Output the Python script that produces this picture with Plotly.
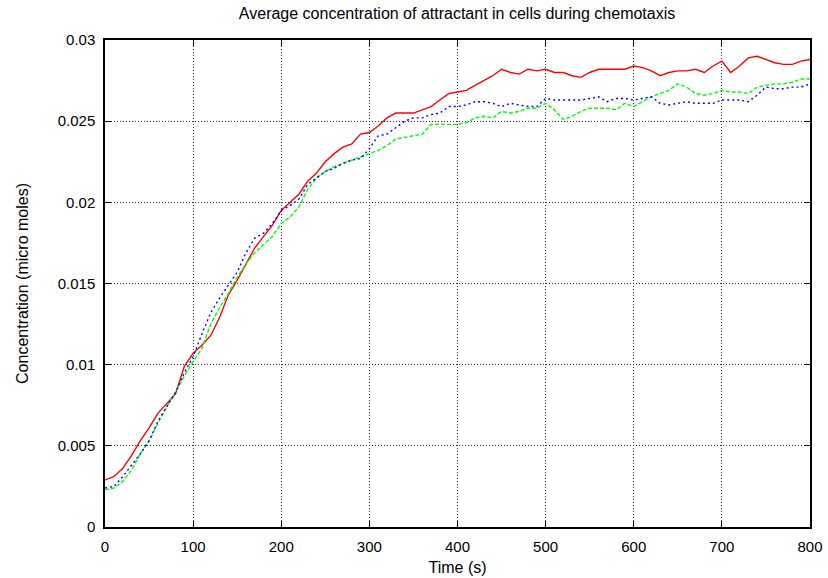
import plotly.graph_objects as go

time_s = list(range(0, 801, 10))

red_series = [
    0.0029, 0.0031, 0.0036, 0.0044, 0.0053, 0.0061, 0.0070, 0.0076, 0.0082, 0.0099,
    0.0107, 0.0112, 0.0118, 0.0129, 0.0143, 0.0152, 0.0162, 0.0172, 0.0179, 0.0186,
    0.0195, 0.0200, 0.0205, 0.0213, 0.0218, 0.0225, 0.0230, 0.0234, 0.0236, 0.0242,
    0.0243, 0.0247, 0.0252, 0.0255, 0.0255, 0.0255, 0.0257, 0.0259, 0.0263, 0.0267,
    0.0268, 0.0269, 0.0272, 0.0275, 0.0278, 0.0282, 0.0280, 0.0279, 0.0282, 0.0281,
    0.0282, 0.0280, 0.0280, 0.0278, 0.0277, 0.0280, 0.0282, 0.0282, 0.0282, 0.0282,
    0.0284, 0.0283, 0.0281, 0.0278, 0.0280, 0.0281, 0.0281, 0.0282, 0.0280, 0.0284,
    0.0287, 0.0280, 0.0284, 0.0289, 0.0290, 0.0288, 0.0286, 0.0285, 0.0285, 0.0287,
    0.0288,
]

green_series = [
    0.0023, 0.0024, 0.0028, 0.0035, 0.0045, 0.0053, 0.0064, 0.0074, 0.0083, 0.0093,
    0.0102, 0.0110, 0.0125, 0.0135, 0.0144, 0.0154, 0.0162, 0.0169, 0.0174, 0.0179,
    0.0187, 0.0191, 0.0197, 0.0208, 0.0215, 0.0219, 0.0222, 0.0224, 0.0226, 0.0228,
    0.0230, 0.0232, 0.0235, 0.0239, 0.0240, 0.0241, 0.0242, 0.0248, 0.0248, 0.0248,
    0.0248, 0.0249, 0.0252, 0.0253, 0.0252, 0.0256, 0.0255, 0.0256, 0.0258, 0.0258,
    0.0261, 0.0257, 0.0251, 0.0253, 0.0256, 0.0258, 0.0258, 0.0258, 0.0257, 0.0261,
    0.0259, 0.0262, 0.0265, 0.0267, 0.0269, 0.0273, 0.0271, 0.0267, 0.0266, 0.0267,
    0.0269, 0.0268, 0.0268, 0.0267, 0.0271, 0.0272, 0.0273, 0.0273, 0.0274, 0.0276,
    0.0276,
]

blue_series = [
    0.0024, 0.0025, 0.0031, 0.0038, 0.0045, 0.0053, 0.0065, 0.0074, 0.0083, 0.0095,
    0.0105, 0.0119, 0.0132, 0.0141, 0.0149, 0.0157, 0.0169, 0.0178, 0.0181, 0.0187,
    0.0195, 0.0198, 0.0202, 0.0211, 0.0215, 0.0219, 0.0221, 0.0224, 0.0226, 0.0227,
    0.0233, 0.0241, 0.0242, 0.0246, 0.0250, 0.0252, 0.0252, 0.0254, 0.0255, 0.0259,
    0.0259, 0.0260, 0.0262, 0.0262, 0.0261, 0.0259, 0.0261, 0.0260, 0.0259, 0.0259,
    0.0264, 0.0263, 0.0263, 0.0263, 0.0263, 0.0264, 0.0265, 0.0262, 0.0264, 0.0264,
    0.0263, 0.0264, 0.0265, 0.0261, 0.0260, 0.0261, 0.0262, 0.0261, 0.0261, 0.0261,
    0.0263, 0.0263, 0.0263, 0.0262, 0.0266, 0.0271, 0.0270, 0.0270, 0.0271, 0.0271,
    0.0273,
]

x_tick_vals = [0, 100, 200, 300, 400, 500, 600, 700, 800]
y_tick_vals = [0, 0.005, 0.01, 0.015, 0.02, 0.025, 0.03]
y_tick_text = ["0", "0.005", "0.01", "0.015", "0.02", "0.025", "0.03"]

FONT = "Liberation Sans, Arial, sans-serif"

fig = go.Figure()
fig.add_trace(go.Scatter(x=time_s, y=red_series, mode="lines",
                         line=dict(color="#ff0000", width=1.4, dash="solid")))
fig.add_trace(go.Scatter(x=time_s, y=green_series, mode="lines",
                         line=dict(color="#00ff00", width=1.4, dash="4px,2px")))
fig.add_trace(go.Scatter(x=time_s, y=blue_series, mode="lines",
                         line=dict(color="#0000ff", width=1.4, dash="2px,3px")))

axis_common = dict(
    showline=True, linecolor="black", linewidth=1.5, mirror="ticks",
    ticks="inside", ticklen=6, tickcolor="black", tickwidth=1,
    showgrid=True, gridcolor="#333333", gridwidth=0.7, griddash="1px,2px",
    zeroline=False, automargin=False, ticklabelstandoff=5,
    tickfont=dict(family=FONT, size=15, color="black"),
)

fig.update_layout(
    width=828, height=578,
    margin=dict(l=105, r=18, t=40, b=51),
    paper_bgcolor="white", plot_bgcolor="white",
    showlegend=False,
    title=dict(text="Average concentration of attractant in cells during chemotaxis",
               x=0.552, xanchor="center", y=0.977, yanchor="middle",
               font=dict(family=FONT, size=16, color="black")),
    xaxis=dict(range=[0, 800], tickvals=x_tick_vals,
               title=dict(text="Time (s)", font=dict(family=FONT, size=16, color="black"), standoff=8),
               **axis_common),
    yaxis=dict(range=[0, 0.03], tickvals=y_tick_vals, ticktext=y_tick_text,
               title=dict(text="Concentration (micro moles)", font=dict(family=FONT, size=16, color="black"), standoff=25),
               **axis_common),
)

fig.write_html("out.html", config={"displayModeBar": False},
               post_script="document.body.style.margin='0';")
